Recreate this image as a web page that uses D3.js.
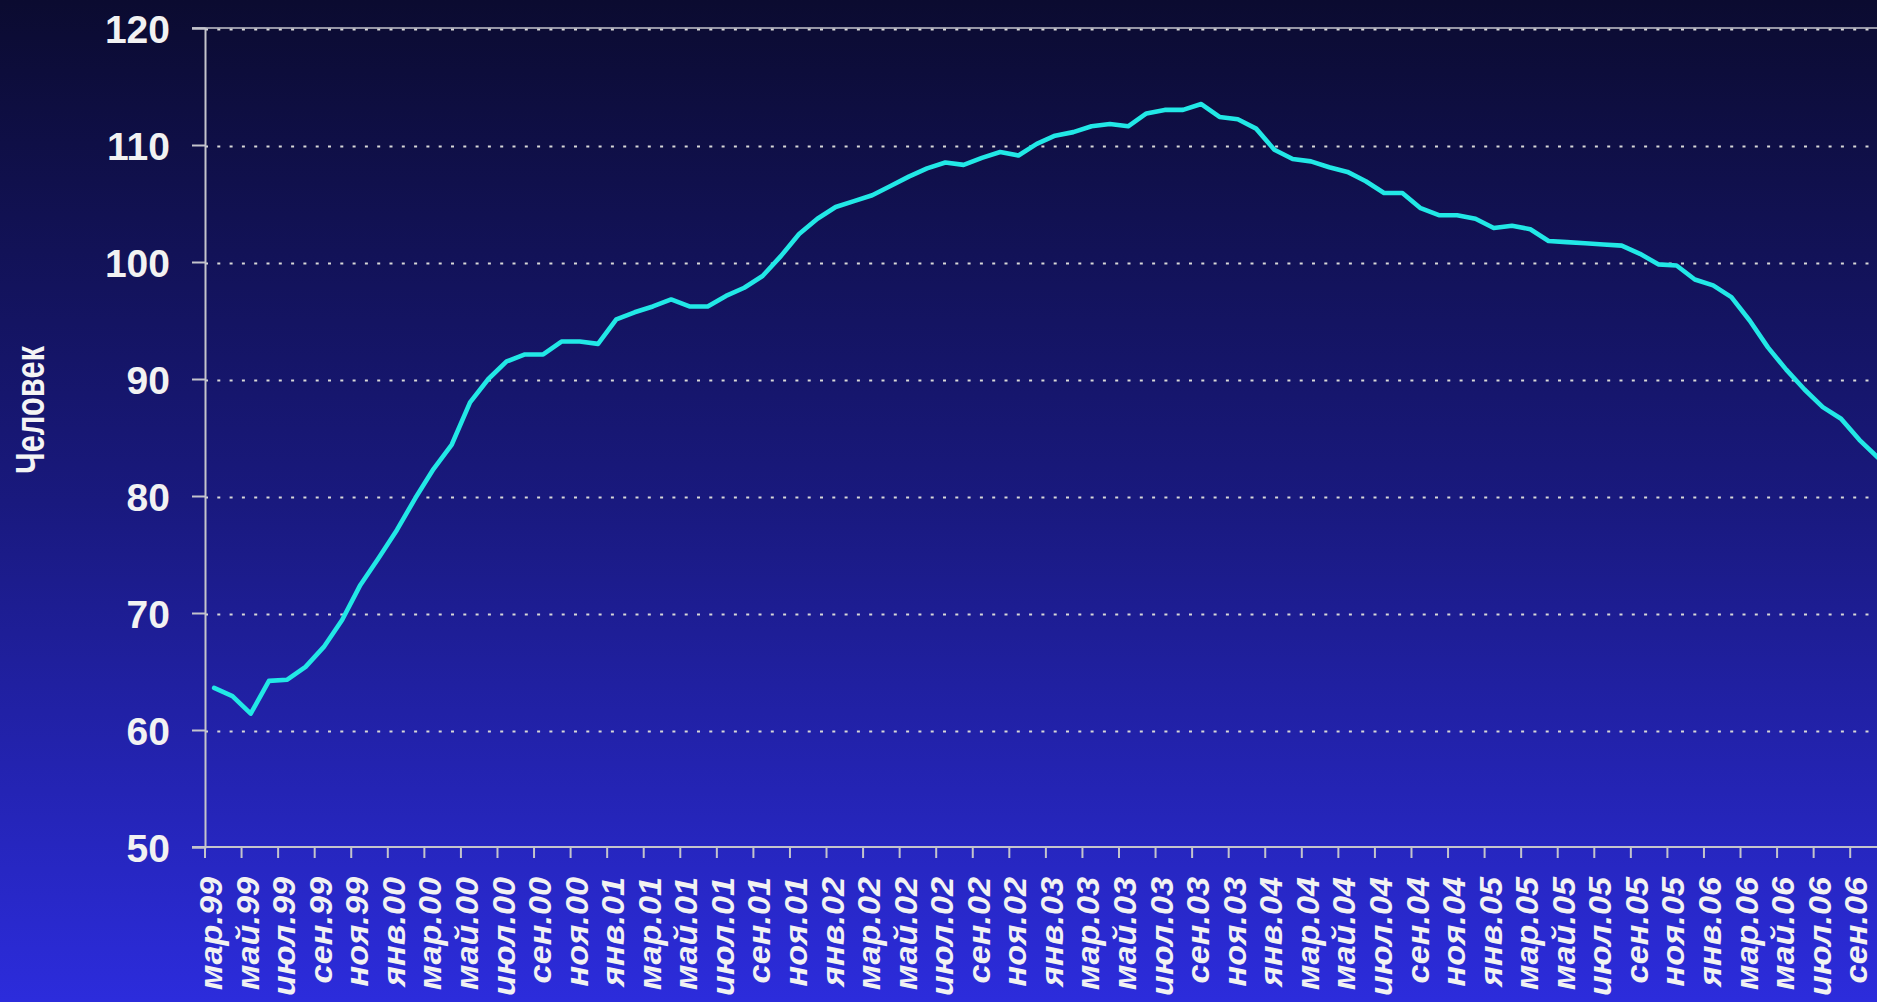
<!DOCTYPE html>
<html>
<head>
<meta charset="utf-8">
<script src="https://cdn.jsdelivr.net/npm/d3@7"></script>
<style>
  html, body { margin: 0; padding: 0; overflow: hidden; background: #0b0b33; }
  svg { display: block; }
</style>
</head>
<body>
<svg id="chart" width="1877" height="1002"></svg>
<script>
// ---- data ----
const months = [
  "мар.99","апр.99","май.99","июн.99","июл.99","авг.99","сен.99","окт.99","ноя.99","дек.99",
  "янв.00","фев.00","мар.00","апр.00","май.00","июн.00","июл.00","авг.00","сен.00","окт.00","ноя.00","дек.00",
  "янв.01","фев.01","мар.01","апр.01","май.01","июн.01","июл.01","авг.01","сен.01","окт.01","ноя.01","дек.01",
  "янв.02","фев.02","мар.02","апр.02","май.02","июн.02","июл.02","авг.02","сен.02","окт.02","ноя.02","дек.02",
  "янв.03","фев.03","мар.03","апр.03","май.03","июн.03","июл.03","авг.03","сен.03","окт.03","ноя.03","дек.03",
  "янв.04","фев.04","мар.04","апр.04","май.04","июн.04","июл.04","авг.04","сен.04","окт.04","ноя.04","дек.04",
  "янв.05","фев.05","мар.05","апр.05","май.05","июн.05","июл.05","авг.05","сен.05","окт.05","ноя.05","дек.05",
  "янв.06","фев.06","мар.06","апр.06","май.06","июн.06","июл.06","авг.06","сен.06","окт.06"
];
const values = [
  63.6, 62.9, 61.4, 64.2, 64.3, 65.4, 67.1, 69.4, 72.4, 74.7,
  77.1, 79.8, 82.3, 84.4, 88.0, 90.0, 91.5, 92.1, 92.1, 93.2, 93.2, 93.0,
  95.1, 95.7, 96.2, 96.8, 96.2, 96.2, 97.1, 97.8, 98.8, 100.5, 102.4, 103.7,
  104.7, 105.2, 105.7, 106.5, 107.3, 108.0, 108.5, 108.3, 108.9, 109.4, 109.1, 110.1,
  110.8, 111.1, 111.6, 111.8, 111.6, 112.7, 113.0, 113.0, 113.5, 112.4, 112.2, 111.4,
  109.6, 108.8, 108.6, 108.1, 107.7, 106.9, 105.9, 105.9, 104.6, 104.0, 104.0, 103.7,
  102.9, 103.1, 102.8, 101.8, 101.7, 101.6, 101.5, 101.4, 100.7, 99.8, 99.7, 98.5,
  98.0, 97.0, 95.0, 92.7, 90.8, 89.1, 87.6, 86.6, 84.8, 83.3
];
const tickLabels = months.filter((m, i) => i % 2 === 0);
const yTicks = [50, 60, 70, 80, 90, 100, 110, 120];
const yTitle = "Человек";

(function draw() {
  const W = 1877, H = 1002;
  const mLeft = 205, mBottom = 847, mTop = 28;
  const band = 18.28;
  const fontFam = "'Liberation Sans', Arial, sans-serif";

  const svg = d3.select("#chart");
  const defs = svg.append("defs");
  const grad = defs.append("linearGradient").attr("id", "bg")
    .attr("x1", 0).attr("y1", 0).attr("x2", 0).attr("y2", 1);
  grad.append("stop").attr("offset", "0%").attr("stop-color", "#0b0b30");
  grad.append("stop").attr("offset", "50%").attr("stop-color", "#19197e");
  grad.append("stop").attr("offset", "100%").attr("stop-color", "#2c2cdc");
  svg.append("rect").attr("width", W).attr("height", H).attr("fill", "url(#bg)");

  const x = d3.scaleBand().domain(months)
    .range([mLeft, mLeft + months.length * band]).paddingInner(0).paddingOuter(0);
  const y = d3.scaleLinear().domain([50, 120]).range([mBottom, mTop]);

  const axisColor = "#c4c4cc";

  // dotted gridlines
  svg.append("g").selectAll("line").data(yTicks.filter(t => t > 50)).join("line")
    .attr("x1", mLeft).attr("x2", W)
    .attr("y1", d => y(d) + 1.5).attr("y2", d => y(d) + 1.5)
    .attr("stroke", "#d8d8d8").attr("stroke-width", 1.8)
    .attr("stroke-dasharray", "3 9.3");

  // top line at 120
  svg.append("line")
    .attr("x1", mLeft - 13).attr("x2", W)
    .attr("y1", y(120)).attr("y2", y(120))
    .attr("stroke", axisColor).attr("stroke-width", 1.6);

  // y axis
  const yAxis = d3.axisLeft(y).tickValues(yTicks).tickSize(13).tickPadding(22)
    .tickFormat(d3.format("d"));
  const gy = svg.append("g").attr("transform", `translate(${mLeft},0)`).call(yAxis);
  gy.select(".domain").attr("stroke", axisColor).attr("stroke-width", 2);
  gy.selectAll(".tick line").attr("stroke", axisColor).attr("stroke-width", 2);
  gy.selectAll(".tick text")
    .attr("fill", "#f2f2f2")
    .style("font-family", fontFam)
    .style("font-weight", "bold")
    .style("font-size", "39px")
    .attr("dy", "0.36em");

  // x axis line
  svg.append("line")
    .attr("x1", mLeft - 13).attr("x2", W)
    .attr("y1", mBottom).attr("y2", mBottom)
    .attr("stroke", axisColor).attr("stroke-width", 2);

  // x ticks between categories, every 2nd
  svg.append("g").selectAll("line").data(tickLabels).join("line")
    .attr("x1", d => x(d)).attr("x2", d => x(d))
    .attr("y1", mBottom).attr("y2", mBottom + 11)
    .attr("stroke", axisColor).attr("stroke-width", 2);

  // x labels
  const labs = svg.append("g").selectAll("text").data(tickLabels).join("text")
    .text(d => d)
    .attr("fill", "#f2f2f2")
    .attr("text-anchor", "end")
    .attr("dominant-baseline", "central")
    .style("font-family", fontFam)
    .style("font-weight", "bold")
    .style("font-style", "italic")
    .style("font-size", "31px");
  const refLen = labs.filter(d => d === "мар.99").node().getComputedTextLength() || 100;
  const sx = 113 / refLen;
  labs.attr("transform", d =>
    `translate(${x(d) + x.bandwidth() / 2 - 3},${mBottom + 30}) rotate(-90) scale(${sx},1)`);

  // y title
  const yt = svg.append("text").text(yTitle)
    .attr("text-anchor", "middle")
    .attr("dominant-baseline", "central")
    .attr("fill", "#f4f4f4")
    .style("font-family", fontFam)
    .style("font-weight", "bold")
    .style("font-size", "40px");
  const tLen = yt.node().getComputedTextLength() || 160;
  yt.attr("transform", `translate(31,410) rotate(-90) scale(${128 / tLen},1)`);

  // data line
  const line = d3.line()
    .x((d, i) => x(months[i]) + x.bandwidth() / 2)
    .y(d => y(d));
  svg.append("path").datum(values)
    .attr("d", line)
    .attr("fill", "none")
    .attr("stroke", "#22e8e6")
    .attr("stroke-width", 4.6)
    .attr("stroke-linejoin", "round")
    .attr("stroke-linecap", "round");
})();
</script>
</body>
</html>
